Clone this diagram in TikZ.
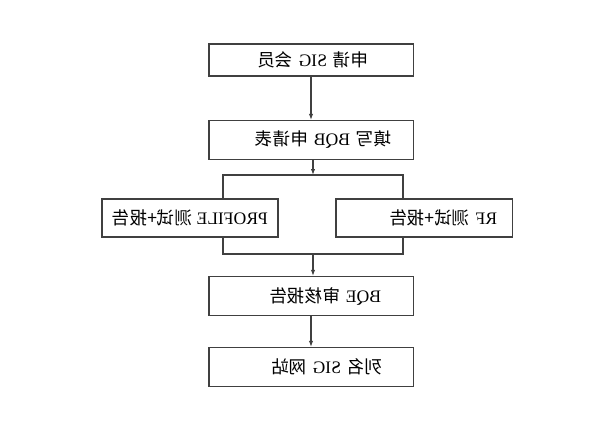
\documentclass[tikz,border=0pt]{standalone}
\usepackage{graphicx}
\usepackage{fontspec}
\setmainfont{Liberation Serif}
\newfontfamily\cjk{Noto Sans CJK SC}
\usetikzlibrary{positioning,arrows.meta}

\newcommand{\zh}[1]{{\cjk #1}}
\newcommand{\flip}[1]{\reflectbox{#1}}

\begin{document}
\begin{tikzpicture}[x=0.025cm,y=-0.025cm,line width=0.75pt,>={Latex[length=1.5mm,width=1.1mm]},
  stepbox/.style={draw=black!75,minimum width=5.1cm,minimum height=0.98cm,inner ysep=0pt,
    align=right,font=\fontsize{12.5}{14}\selectfont},
  sidebox/.style={draw=black!75,minimum width=4.4cm,minimum height=0.95cm,inner ysep=0pt,
    align=right,font=\fontsize{12.5}{14}\selectfont}]
  \useasboundingbox (0,0) rectangle (612,423);
  % ===== boxes =====
  \node[stepbox,minimum height=0.8cm,text width=2.85cm,inner xsep=1.125cm] (sig) at (311,60)
    {\flip{\zh{申请} SIG \zh{会员}}};
  \node[stepbox,text width=4.0cm,inner xsep=0.55cm] (bqb) at (311,140)
    {\flip{\zh{填写} BQB \zh{申请表}}};
  \node[sidebox,align=center] (prof) at (190,218)
    {\flip{PROFILE \zh{测试+报告}}};
  \node[sidebox,text width=3.65cm,inner xsep=0.375cm] (rf) at (424,218)
    {\flip{RF \zh{测试+报告}}};
  \node[stepbox,text width=3.5cm,inner xsep=0.8cm] (bqe) at (311,296)
    {\flip{BQE \zh{审核报告}}};
  \node[stepbox,text width=3.55cm,inner xsep=0.775cm] (list) at (311,367)
    {\flip{\zh{列名} SIG \zh{网站}}};
  % fork / join points
  \coordinate (fork) at (313,175);
  \coordinate (forkl) at (223,175);
  \coordinate (forkr) at (403,175);
  \coordinate (join) at (313,254);
  \coordinate (joinl) at (223,254);
  \coordinate (joinr) at (403,254);
  % ===== connectors =====
  \begin{scope}[draw=black!75]
    \draw[->] (sig) -- (bqb);
    \draw[->] (bqb.south -| fork) -- (fork);
    \draw (prof.north -| forkl) |- (forkr) -- (rf.north -| forkr);
    \draw (prof.south -| joinl) |- (joinr) -- (rf.south -| joinr);
    \draw[->] (join) -- (bqe.north -| join);
    \draw[->] (bqe) -- (list);
  \end{scope}
\end{tikzpicture}
\end{document}
